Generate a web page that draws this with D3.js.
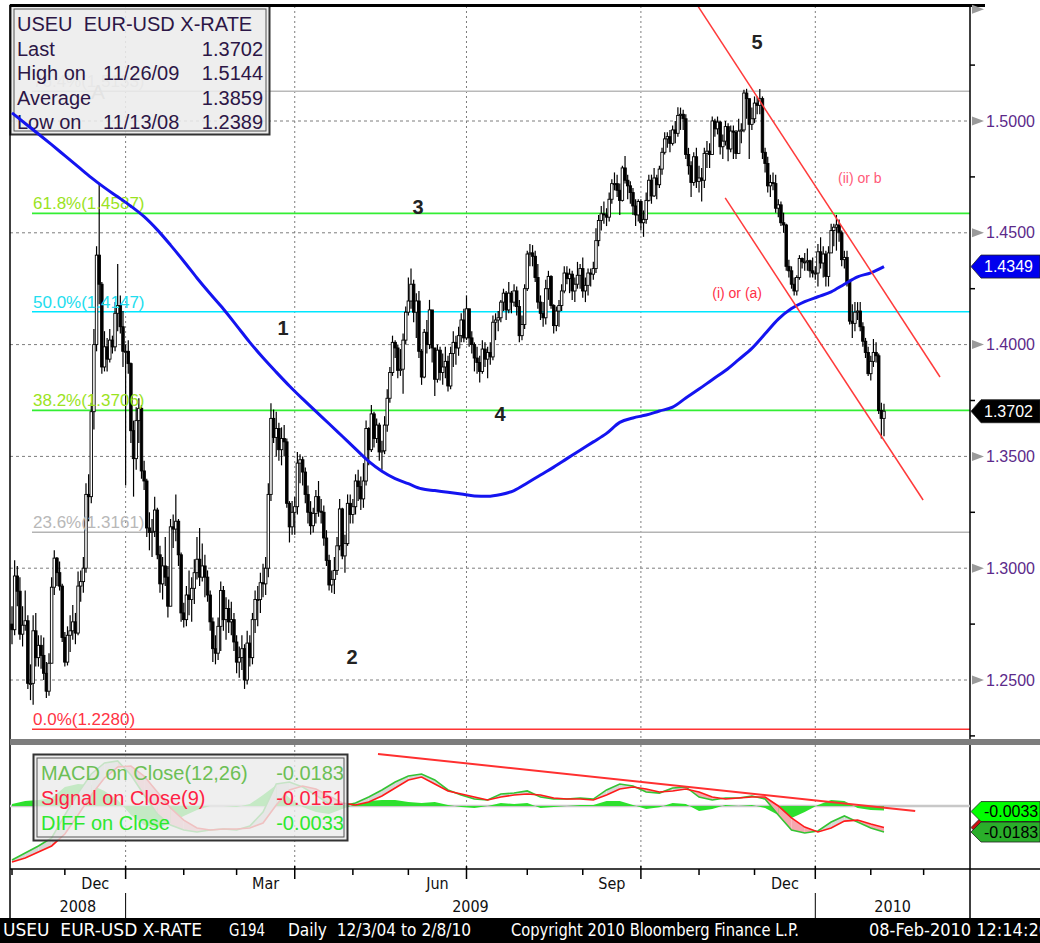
<!DOCTYPE html>
<html>
<head>
<meta charset="utf-8">
<script src="https://cdn.jsdelivr.net/npm/d3@7"></script>
<style>
  body { margin: 0; background: #fff; }
  svg { display: block; font-family: "Liberation Sans", Arial, sans-serif; }
  text { white-space: pre; }
  .narrow { font-family: "Liberation Sans Narrow", "Arial Narrow", "DejaVu Sans Condensed", sans-serif; }
</style>
</head>
<body>
<svg width="1040" height="943"></svg>
<script>
// ---- data (EUR-USD daily, 3 Nov 2008 .. 8 Feb 2010, one value per weekday) ----
const firstOpen = 1.2750;

const closes = [
  // Nov 08
  1.2725,1.2965,1.2897,1.2705,1.2745,1.2765,1.2485,1.2485,1.2720,1.2600,1.2655,1.2610,1.2530,1.2450,1.2575,1.2915,1.3045,1.2980,1.2920,1.2690,
  // Dec 08
  1.2580,1.2700,1.2720,1.2760,1.2710,1.2920,1.2940,1.3000,1.3330,1.3320,1.3700,1.4000,1.4400,1.4270,1.3900,1.3990,1.3935,1.4020,1.3990,1.4140,1.4175,1.4080,1.3970,
  // Jan 09
  1.3970,1.3915,1.3615,1.3490,1.3660,1.3715,1.3435,1.3390,1.3180,1.3160,1.3165,1.3260,1.3060,1.2930,1.3010,1.2960,1.2830,1.3185,1.3175,1.3210,1.3060,1.2800,
  // Feb 09
  1.2770,1.2880,1.2860,1.2910,1.2980,1.3040,1.2960,1.3010,1.2960,1.2880,1.2760,1.2640,1.2620,1.2740,1.2900,1.2770,1.2820,1.2760,1.2770,1.2670,
  // Mar 09
  1.2580,1.2600,1.2640,1.2500,1.2665,1.2600,1.2770,1.2860,1.2860,1.2935,1.2930,1.3000,1.3330,1.3670,1.3585,1.3625,1.3530,1.3580,1.3565,1.3290,1.3185,1.3250,
  // Apr 09
  1.3275,1.3470,1.3485,1.3430,1.3330,1.3250,1.3190,1.3245,1.3320,1.3255,1.3250,1.3135,1.3035,1.2925,1.2950,1.2990,1.3100,1.3265,1.3055,1.3110,1.3290,1.3240,
  // May 09
  1.3275,1.3390,1.3365,1.3310,1.3390,1.3625,1.3530,1.3690,1.3580,1.3640,1.3520,1.3525,1.3640,1.3760,1.3875,1.4010,1.3985,1.3885,1.3890,1.4020,1.4145,
  // Jun 09
  1.4195,1.4270,1.4145,1.4195,1.3970,1.3855,1.4055,1.4000,1.4155,1.3985,1.3845,1.3975,1.3875,1.3900,1.3925,1.3815,1.3960,1.4010,1.3985,1.4040,1.4110,1.4030,
  // Jul 09
  1.4160,1.4030,1.4000,1.3940,1.3920,1.3880,1.3980,1.3935,1.3965,1.3945,1.4100,1.4110,1.4120,1.4190,1.4230,1.4155,1.4230,1.4190,1.4240,1.4170,1.4040,1.4090,1.4250,
  // Aug 09
  1.4405,1.4410,1.4395,1.4300,1.4190,1.4140,1.4120,1.4250,1.4305,1.4175,1.4085,1.4150,1.4175,1.4240,1.4320,1.4295,1.4315,1.4240,1.4270,1.4310,1.4340,
  // Sep 09
  1.4240,1.4265,1.4320,1.4315,1.4340,1.4465,1.4555,1.4585,1.4580,1.4570,1.4650,1.4720,1.4720,1.4690,1.4645,1.4790,1.4735,1.4710,1.4680,1.4620,1.4580,1.4640,
  // Oct 09
  1.4545,1.4560,1.4645,1.4735,1.4665,1.4745,1.4715,1.4785,1.4860,1.4920,1.4930,1.4900,1.4960,1.4945,1.5025,1.5030,1.5010,1.4850,1.4800,1.4725,1.4840,1.4730,
  // Nov 09
  1.4745,1.4735,1.4855,1.4865,1.4850,1.5000,1.4965,1.4995,1.4885,1.4910,1.4975,1.4875,1.4955,1.4950,1.4855,1.4955,1.4960,1.5125,1.5100,1.4985,1.5010,
  // Dec 09
  1.5080,1.5070,1.5100,1.4860,1.4810,1.4710,1.4725,1.4720,1.4610,1.4625,1.4545,1.4535,1.4350,1.4330,1.4270,1.4240,1.4300,1.4385,1.4370,1.4370,1.4375,1.4330,1.4320,
  // Jan 10
  1.4320,1.4415,1.4365,1.4405,1.4305,1.4410,1.4510,1.4525,1.4535,1.4500,1.4380,1.4390,1.4280,1.4105,1.4095,1.4145,1.4150,1.4080,1.4015,1.3965,1.3870,
  // Feb 10
  1.3925,1.3965,1.3950,1.3705,1.3670,1.3702
];

const highs = [
  1.2830,1.3035,1.3010,1.2960,1.2830,1.2900,1.2790,1.2570,1.2790,1.2800,1.2700,1.2700,1.2690,1.2580,1.2620,1.2960,1.3080,1.3050,1.3030,1.2930,
  1.2715,1.2740,1.2790,1.2835,1.2800,1.2985,1.2990,1.3050,1.3380,1.3420,1.3740,1.4070,1.4440,1.4719,1.4280,1.4060,1.4030,1.4070,1.4040,1.4190,1.4360,1.4220,1.4150,
  1.4000,1.4020,1.3920,1.3660,1.3720,1.3760,1.3730,1.3480,1.3400,1.3250,1.3220,1.3320,1.3270,1.3100,1.3050,1.3140,1.3010,1.3220,1.3240,1.3330,1.3220,1.3070,
  1.2845,1.2920,1.2990,1.2960,1.3040,1.3140,1.3180,1.3110,1.3060,1.2990,1.2900,1.2780,1.2700,1.2780,1.2940,1.2920,1.2870,1.2860,1.2850,1.2800,
  1.2700,1.2650,1.2700,1.2660,1.2720,1.2700,1.2800,1.2900,1.2920,1.2980,1.3020,1.3050,1.3380,1.3738,1.3710,1.3700,1.3650,1.3630,1.3640,1.3580,1.3300,1.3300,
  1.3320,1.3520,1.3510,1.3500,1.3450,1.3370,1.3300,1.3270,1.3350,1.3390,1.3310,1.3280,1.3170,1.3060,1.2990,1.3050,1.3140,1.3310,1.3270,1.3150,1.3330,1.3330,
  1.3310,1.3420,1.3440,1.3410,1.3470,1.3660,1.3630,1.3730,1.3700,1.3670,1.3650,1.3570,1.3680,1.3800,1.3900,1.4040,1.4020,1.4000,1.3980,1.4050,1.4170,
  1.4300,1.4340,1.4290,1.4230,1.4240,1.3980,1.4070,1.4110,1.4200,1.4140,1.3980,1.4000,1.3990,1.3960,1.3990,1.3950,1.3990,1.4060,1.4040,1.4080,1.4140,1.4160,
  1.4220,1.4160,1.4060,1.4010,1.3990,1.3950,1.4020,1.4010,1.3990,1.4010,1.4130,1.4140,1.4150,1.4200,1.4250,1.4240,1.4280,1.4240,1.4270,1.4260,1.4200,1.4130,1.4270,
  1.4420,1.4450,1.4445,1.4420,1.4360,1.4220,1.4190,1.4290,1.4330,1.4310,1.4180,1.4170,1.4200,1.4270,1.4350,1.4350,1.4340,1.4330,1.4300,1.4370,1.4360,
  1.4390,1.4300,1.4340,1.4340,1.4370,1.4520,1.4580,1.4620,1.4640,1.4610,1.4680,1.4740,1.4770,1.4760,1.4720,1.4800,1.4844,1.4760,1.4730,1.4700,1.4650,1.4650,
  1.4650,1.4600,1.4680,1.4760,1.4760,1.4790,1.4760,1.4800,1.4880,1.4950,1.4950,1.4960,1.4980,1.5000,1.5061,1.5060,1.5050,1.5030,1.4880,1.4820,1.4860,1.4880,
  1.4800,1.4790,1.4880,1.4910,1.4900,1.5020,1.5010,1.5020,1.5000,1.4940,1.5000,1.4990,1.4980,1.4980,1.4960,1.5010,1.4990,1.5140,1.5144,1.5080,1.5060,
  1.5110,1.5110,1.5143,1.5110,1.4880,1.4840,1.4760,1.4770,1.4760,1.4650,1.4640,1.4590,1.4540,1.4380,1.4350,1.4300,1.4310,1.4400,1.4390,1.4410,1.4430,1.4380,1.4390,
  1.4350,1.4450,1.4480,1.4440,1.4420,1.4440,1.4540,1.4540,1.4580,1.4560,1.4510,1.4420,1.4420,1.4290,1.4180,1.4190,1.4190,1.4190,1.4100,1.4030,1.3990,
  1.3950,1.4025,1.4010,1.3960,1.3740,1.3735
];

const lows = [
  1.2660,1.2700,1.2830,1.2680,1.2650,1.2720,1.2460,1.2410,1.2389,1.2560,1.2560,1.2550,1.2500,1.2420,1.2430,1.2580,1.2880,1.2920,1.2900,1.2670,
  1.2560,1.2565,1.2625,1.2680,1.2660,1.2700,1.2850,1.2890,1.2980,1.3210,1.3290,1.3620,1.3970,1.4180,1.3870,1.3880,1.3880,1.3920,1.3960,1.3970,1.4060,1.4050,1.3900,
  1.3370,1.3870,1.3560,1.3320,1.3440,1.3560,1.3400,1.3350,1.3140,1.3080,1.3050,1.3140,1.3040,1.2890,1.2860,1.2920,1.2780,1.2830,1.3090,1.3120,1.3010,1.2760,
  1.2735,1.2740,1.2790,1.2760,1.2840,1.2950,1.2920,1.2940,1.2870,1.2850,1.2720,1.2580,1.2570,1.2590,1.2630,1.2720,1.2680,1.2710,1.2700,1.2630,
  1.2530,1.2510,1.2545,1.2460,1.2480,1.2560,1.2570,1.2710,1.2740,1.2800,1.2870,1.2880,1.2960,1.3300,1.3560,1.3500,1.3480,1.3460,1.3500,1.3270,1.3115,1.3150,
  1.3150,1.3240,1.3380,1.3370,1.3290,1.3200,1.3150,1.3160,1.3200,1.3230,1.3200,1.3100,1.3010,1.2900,1.2890,1.2885,1.2970,1.3080,1.3040,1.2980,1.3100,1.3200,
  1.3200,1.3240,1.3300,1.3260,1.3270,1.3370,1.3460,1.3520,1.3540,1.3560,1.3480,1.3440,1.3510,1.3610,1.3740,1.3860,1.3940,1.3850,1.3860,1.3780,1.4000,
  1.4130,1.4160,1.4100,1.4030,1.3940,1.3820,1.3850,1.3960,1.3980,1.3920,1.3770,1.3830,1.3840,1.3820,1.3850,1.3790,1.3800,1.3900,1.3910,1.3950,1.4010,1.4010,
  1.4020,1.3990,1.3960,1.3880,1.3870,1.3830,1.3870,1.3900,1.3850,1.3910,1.3930,1.4020,1.4060,1.4100,1.4150,1.4110,1.4140,1.4140,1.4170,1.4130,1.4010,1.4020,1.4070,
  1.4240,1.4350,1.4350,1.4280,1.4160,1.4110,1.4080,1.4090,1.4200,1.4160,1.4050,1.4060,1.4080,1.4150,1.4230,1.4270,1.4230,1.4200,1.4190,1.4250,1.4250,
  1.4210,1.4190,1.4220,1.4260,1.4290,1.4320,1.4440,1.4510,1.4540,1.4530,1.4550,1.4630,1.4690,1.4660,1.4580,1.4640,1.4720,1.4650,1.4630,1.4580,1.4530,1.4550,
  1.4510,1.4482,1.4540,1.4640,1.4630,1.4660,1.4650,1.4700,1.4760,1.4850,1.4880,1.4860,1.4890,1.4900,1.4930,1.4960,1.4960,1.4830,1.4760,1.4660,1.4710,1.4700,
  1.4680,1.4640,1.4700,1.4790,1.4790,1.4860,1.4930,1.4940,1.4850,1.4830,1.4890,1.4820,1.4860,1.4830,1.4830,1.4870,1.4900,1.4950,1.5010,1.4830,1.4960,
  1.4990,1.5030,1.5030,1.4830,1.4770,1.4680,1.4660,1.4690,1.4590,1.4570,1.4530,1.4500,1.4330,1.4300,1.4250,1.4220,1.4220,1.4290,1.4340,1.4330,1.4330,1.4300,1.4300,
  1.4290,1.4260,1.4340,1.4300,1.4260,1.4260,1.4410,1.4440,1.4420,1.4460,1.4350,1.4340,1.4260,1.4090,1.4030,1.4060,1.4110,1.4060,1.3990,1.3940,1.3860,
  1.3840,1.3900,1.3920,1.3690,1.3580,1.3590
];

// 200-day moving average, read every 5th trading day
const maStep = 5;
const maValues = [
  1.5036,1.4989,1.4942,1.4894,1.4845,1.4796,1.4747,1.4702,1.4661,1.4619,1.4572,1.4513,1.4445,1.4373,1.4298,1.4227,1.4159,1.4085,1.4010,1.3941,
  1.3877,1.3815,1.3757,1.3701,1.3646,1.3590,1.3534,1.3478,1.3434,1.3401,1.3378,1.3355,1.3347,1.3340,1.3332,1.3323,1.3322,1.3330,1.3347,1.3381,
  1.3417,1.3452,1.3490,1.3528,1.3565,1.3603,1.3652,1.3672,1.3685,1.3703,1.3720,1.3761,1.3801,1.3843,1.3884,1.3933,1.3983,1.4048,1.4114,1.4161,
  1.4192,1.4214,1.4236,1.4270,1.4303,1.4321,1.4349
];

// MACD(12,26) and signal(9), read every 5th trading day
const macdValues = [
  -0.0380,-0.0331,-0.0281,-0.0225,-0.0063,0.0091,0.0225,0.0303,0.0317,0.0218,0.0077,-0.0056,-0.0134,-0.0169,-0.0183,-0.0169,-0.0162,-0.0169,-0.0141,-0.0042,
  0.0155,0.0169,0.0134,0.0077,0.0014,0.0000,0.0021,0.0063,0.0113,0.0169,0.0211,0.0225,0.0183,0.0113,0.0077,0.0049,0.0042,0.0084,0.0091,0.0106,
  0.0063,0.0049,0.0049,0.0056,0.0049,0.0113,0.0155,0.0141,0.0099,0.0091,0.0127,0.0134,0.0063,0.0042,0.0056,0.0056,0.0070,0.0049,-0.0063,-0.0169,
  -0.0190,-0.0176,-0.0113,-0.0070,-0.0113,-0.0155,-0.0183
];
const signalValues = [
  -0.0394,-0.0366,-0.0324,-0.0281,-0.0197,-0.0063,0.0077,0.0197,0.0274,0.0281,0.0211,0.0099,-0.0014,-0.0099,-0.0155,-0.0169,-0.0162,-0.0162,-0.0155,-0.0120,
  0.0007,0.0113,0.0141,0.0120,0.0070,0.0021,0.0007,0.0028,0.0070,0.0127,0.0183,0.0204,0.0155,0.0106,0.0084,0.0063,0.0042,0.0063,0.0077,0.0084,
  0.0077,0.0056,0.0049,0.0049,0.0042,0.0077,0.0120,0.0134,0.0120,0.0099,0.0106,0.0120,0.0099,0.0063,0.0049,0.0056,0.0063,0.0063,0.0000,-0.0084,
  -0.0148,-0.0183,-0.0155,-0.0106,-0.0099,-0.0127,-0.0151
];

const fibNames  = ["0.0%", "23.6%", "38.2%", "50.0%", "61.8%", "76.4%"];
const fibValues = [1.2280, 1.3161, 1.3706, 1.4147, 1.4587, 1.5133];

const priceTicks = [1.25, 1.30, 1.35, 1.40, 1.45, 1.50, 1.55];
const minorTicks = [1.225, 1.275, 1.325, 1.375, 1.425, 1.475, 1.525];

const legendRows = [
  ["Last", "", "1.3702"],
  ["High on", "11/26/09", "1.5144"],
  ["Average", "", "1.3859"],
  ["Low on", "11/13/08", "1.2389"]
];
const macdLegend = [
  ["MACD on Close(12,26)", "-0.0183"],
  ["Signal on Close(9)", "-0.0151"],
  ["DIFF on Close", "-0.0033"]
];

// wave labels: trading-day index and price where they sit
const waveText  = ["1", "2", "3", "4", "5"];
const waveIdx   = [102.6, 128.7, 153.7, 184.7, 282.0];
const wavePrice = [1.4074, 1.2603, 1.4615, 1.3690, 1.5353];

// drawn trend channel (index, price)
const upperChannel = [[259.3, 1.5519], [351.2, 1.3855]];
const lowerChannel = [[269.9, 1.4656], [344.8, 1.3305]];
const macdTrend = [[138.5, 0.0366], [341.8, -0.0035]];

// ---- layout ----
const plotL = 10, plotR = 970;
const mainTop = 6, mainBot = 739;
const macdTop = 745, macdBot = 869;

const svg = d3.select("svg");
const defs = svg.append("defs");
defs.append("clipPath").attr("id", "clipMain").append("rect")
  .attr("x", plotL).attr("y", mainTop).attr("width", plotR - plotL).attr("height", mainBot - mainTop);
defs.append("clipPath").attr("id", "clipMacd").append("rect")
  .attr("x", plotL).attr("y", macdTop).attr("width", plotR - plotL).attr("height", macdBot - macdTop);

const tradingDays = d3.timeDay.range(new Date(2008, 10, 3), new Date(2010, 3, 1))
  .filter((d) => d.getDay() % 6 !== 0);

const x = d3.scaleLinear().domain([0, 330]).range([12, 884]);
const y = d3.scaleLinear().domain([1.25, 1.50]).range([680, 121]);
const ym = d3.scaleLinear().domain([-0.0443, 0.0429]).range([macdBot, macdTop]);

const monthStarts = tradingDays
  .map((d, i) => ({ d, i }))
  .filter((o) => o.i === 0 || o.d.getMonth() !== tradingDays[o.i - 1].getMonth())
  .filter((o) => x(o.i) <= plotR);
const quarterStarts = monthStarts.filter((o) => o.i > 0 && o.d.getMonth() % 3 === 0);

const opens = closes.map((c, i) => (i === 0 ? firstOpen : closes[i - 1]));

// ---- main panel ----
const main = svg.append("g");

// grid
main.selectAll("line.hgrid")
  .data(priceTicks.filter((t) => t < 1.54))
  .join("line")
  .attr("x1", plotL).attr("x2", plotR)
  .attr("y1", (d) => y(d)).attr("y2", (d) => y(d))
  .attr("stroke", "#7d7d7d").attr("stroke-dasharray", "3,3").attr("stroke-width", 1);

main.selectAll("line.vgrid")
  .data(quarterStarts)
  .join("line")
  .attr("x1", (d) => x(d.i)).attr("x2", (d) => x(d.i))
  .attr("y1", mainTop).attr("y2", mainBot)
  .attr("stroke", "#7d7d7d").attr("stroke-dasharray", "2,3").attr("stroke-width", 1);

// fibonacci lines
const fibLine = { "0.0%": "#ff3333", "23.6%": "#b4b4b4", "38.2%": "#33ee33", "50.0%": "#00e6ff", "61.8%": "#33ee33", "76.4%": "#b9b9b9" };
const fibText = { "0.0%": "#ff3344", "23.6%": "#b8b8b8", "38.2%": "#9be31e", "50.0%": "#22ddee", "61.8%": "#9be31e", "76.4%": "#c4c4c4" };

main.selectAll("line.fib")
  .data(fibValues)
  .join("line")
  .attr("x1", 32).attr("x2", plotR)
  .attr("y1", (d) => y(d)).attr("y2", (d) => y(d))
  .attr("stroke", (d, i) => fibLine[fibNames[i]]).attr("stroke-width", 1.6);

// candles
const candles = main.append("g").attr("clip-path", "url(#clipMain)");
candles.selectAll("line")
  .data(closes)
  .join("line")
  .attr("x1", (d, i) => x(i)).attr("x2", (d, i) => x(i))
  .attr("y1", (d, i) => y(Math.max(highs[i], opens[i], d)))
  .attr("y2", (d, i) => y(Math.min(lows[i], opens[i], d)))
  .attr("stroke", "#000").attr("stroke-width", 1.2);

candles.selectAll("rect")
  .data(closes)
  .join("rect")
  .attr("x", (d, i) => x(i) - 1.25)
  .attr("width", 2.5)
  .attr("y", (d, i) => y(Math.max(opens[i], d)))
  .attr("height", (d, i) => Math.max(1, Math.abs(y(opens[i]) - y(d))))
  .attr("fill", (d, i) => (d >= opens[i] ? "#fff" : "#000"))
  .attr("stroke", "#000").attr("stroke-width", 0.9);

// fib labels
main.selectAll("text.fib")
  .data(fibValues)
  .join("text")
  .attr("x", 33).attr("y", (d) => y(d) - 4)
  .attr("font-size", 17)
  .attr("fill", (d, i) => fibText[fibNames[i]])
  .text((d, i) => `${fibNames[i]}(${d.toFixed(4)})`);

main.append("text")
  .attr("x", 91).attr("y", 99)
  .attr("font-size", 21).attr("fill", "#aaaaaa")
  .text("A");

// price legend
const leg = main.append("g");
leg.append("rect").attr("x", 10.5).attr("y", 5.5).attr("width", 259).attr("height", 129)
  .attr("fill", "#ececec").attr("fill-opacity", 0.87).attr("stroke", "#333").attr("stroke-width", 2);
leg.append("rect").attr("x", 14).attr("y", 9).attr("width", 252).attr("height", 122)
  .attr("fill", "none").attr("stroke", "#555").attr("stroke-width", 1);
leg.append("text")
  .attr("x", 17).attr("y", 24).attr("dy", "0.35em")
  .attr("font-size", 20).attr("fill", "#2c1646")
  .text("USEU  EUR-USD X-RATE");
legendRows.forEach((r, k) => {
  const ty = 49 + k * 24.3;
  leg.append("text").attr("x", 17).attr("y", ty).attr("dy", "0.35em")
    .attr("font-size", 20).attr("fill", "#2c1646").text(r[0]);
  leg.append("text").attr("x", 103).attr("y", ty).attr("dy", "0.35em")
    .attr("font-size", 20).attr("fill", "#2c1646").text(r[1]);
  leg.append("text").attr("x", 263).attr("y", ty).attr("dy", "0.35em")
    .attr("text-anchor", "end")
    .attr("font-size", 20).attr("fill", "#2c1646").text(r[2]);
});

// 200d moving average
main.append("path")
  .datum(maValues)
  .attr("clip-path", "url(#clipMain)")
  .attr("fill", "none").attr("stroke", "#1414f0").attr("stroke-width", 3)
  .attr("d", d3.line().x((d, i) => x(i * maStep)).y((d) => y(d)).curve(d3.curveMonotoneX));

// channel
main.selectAll("line.chan")
  .data([upperChannel, lowerChannel])
  .join("line")
  .attr("clip-path", "url(#clipMain)")
  .attr("x1", (d) => x(d[0][0])).attr("y1", (d) => y(d[0][1]))
  .attr("x2", (d) => x(d[1][0])).attr("y2", (d) => y(d[1][1]))
  .attr("stroke", "#ff3b3b").attr("stroke-width", 1.5);

main.append("text")
  .attr("x", x(312.6)).attr("y", y(1.4745)).attr("dy", "0.35em")
  .attr("font-size", 14).attr("fill", "#ff5a78")
  .text("(ii) or b");
main.append("text")
  .attr("x", x(265.0)).attr("y", y(1.4231)).attr("dy", "0.35em")
  .attr("font-size", 14).attr("fill", "#ff3048")
  .text("(i) or (a)");

main.selectAll("text.wave")
  .data(waveText)
  .join("text")
  .attr("x", (d, i) => x(waveIdx[i])).attr("y", (d, i) => y(wavePrice[i]))
  .attr("dy", "0.35em").attr("text-anchor", "middle")
  .attr("font-size", 20).attr("font-weight", "bold").attr("fill", "#222")
  .text((d) => d);

// ---- right price axis ----
const axis = svg.append("g");
axis.append("line").attr("x1", plotR).attr("x2", plotR).attr("y1", 5).attr("y2", 918)
  .attr("stroke", "#000").attr("stroke-width", 1.5);
axis.append("line").attr("x1", plotL).attr("x2", 985).attr("y1", 5.5).attr("y2", 5.5)
  .attr("stroke", "#000").attr("stroke-width", 3);
axis.append("line").attr("x1", plotL).attr("x2", plotL).attr("y1", 5).attr("y2", 918)
  .attr("stroke", "#000").attr("stroke-width", 1.5);

axis.selectAll("path.tickmark")
  .data(priceTicks)
  .join("path")
  .attr("d", (d) => `M972,${y(d) - 4.5}L984,${y(d)}L972,${y(d) + 4.5}Z`)
  .attr("fill", "#9a9a9a");
axis.selectAll("line.minor")
  .data(minorTicks)
  .join("line")
  .attr("x1", plotR).attr("x2", 975)
  .attr("y1", (d) => y(d)).attr("y2", (d) => y(d))
  .attr("stroke", "#000").attr("stroke-width", 1.5);
axis.selectAll("text.tick")
  .data(priceTicks.filter((t) => t < 1.54))
  .join("text")
  .attr("x", 986).attr("y", (d) => y(d)).attr("dy", "0.35em")
  .attr("font-size", 16).attr("fill", "#5c2a8a")
  .text((d) => d.toFixed(4));

function marker(g, yy, fill, color, label, h) {
  g.append("path")
    .attr("d", `M971,${yy}L981,${yy - h}L1040,${yy - h}L1040,${yy + h}L981,${yy + h}Z`)
    .attr("fill", fill).attr("stroke", "#222").attr("stroke-width", 0.8);
  g.append("text").attr("x", 984).attr("y", yy).attr("dy", "0.36em")
    .attr("font-size", 16).attr("fill", color).text(label);
}
marker(axis, y(maValues[maValues.length - 1]), "#0000ee", "#fff", maValues[maValues.length - 1].toFixed(4), 11.5);
marker(axis, y(closes[closes.length - 1]), "#000", "#fff", closes[closes.length - 1].toFixed(4), 11.5);

// ---- separator ----
svg.append("rect").attr("x", plotL).attr("y", 739).attr("width", 1040 - plotL).attr("height", 6).attr("fill", "#7d7d7d");

// ---- MACD panel ----
const mp = svg.append("g");
mp.selectAll("line.vgrid")
  .data(quarterStarts)
  .join("line")
  .attr("x1", (d) => x(d.i)).attr("x2", (d) => x(d.i))
  .attr("y1", macdTop).attr("y2", macdBot)
  .attr("stroke", "#7d7d7d").attr("stroke-dasharray", "2,3");
mp.append("line").attr("x1", plotL).attr("x2", plotR).attr("y1", ym(0)).attr("y2", ym(0))
  .attr("stroke", "#c8c8c8").attr("stroke-width", 2.5);

const diffValues = macdValues.map((m, i) => m - signalValues[i]);
const inner = mp.append("g").attr("clip-path", "url(#clipMacd)");

inner.append("path")
  .datum(diffValues)
  .attr("fill", "#2ee02e")
  .attr("d", d3.area().x((d, i) => x(i * maStep)).y0(ym(0)).y1((d) => ym(d)));

// fill between macd and signal, one slab per step
inner.selectAll("path.band")
  .data(d3.range(macdValues.length - 1))
  .join("path")
  .attr("d", (k) => {
    const x0 = x(k * maStep), x1 = x((k + 1) * maStep);
    return `M${x0},${ym(macdValues[k])}L${x1},${ym(macdValues[k + 1])}L${x1},${ym(signalValues[k + 1])}L${x0},${ym(signalValues[k])}Z`;
  })
  .attr("fill", (k) => (signalValues[k] + signalValues[k + 1] > macdValues[k] + macdValues[k + 1] ? "#f6a7b0" : "#d6d6d6"));

const mline = d3.line().x((d, i) => x(i * maStep)).y((d) => ym(d));
inner.append("path").datum(macdValues).attr("fill", "none").attr("stroke", "#33c433").attr("stroke-width", 1.6).attr("d", mline);
inner.append("path").datum(signalValues).attr("fill", "none").attr("stroke", "#ff1a1a").attr("stroke-width", 1.6).attr("d", mline);

inner.append("line")
  .attr("x1", x(macdTrend[0][0])).attr("y1", ym(macdTrend[0][1]))
  .attr("x2", x(macdTrend[1][0])).attr("y2", ym(macdTrend[1][1]))
  .attr("stroke", "#ff3030").attr("stroke-width", 2);

// MACD legend
const ml = mp.append("g");
ml.append("rect").attr("x", 33.5).attr("y", 754.5).attr("width", 314).attr("height", 86)
  .attr("fill", "#ebebeb").attr("fill-opacity", 0.8).attr("stroke", "#333").attr("stroke-width", 2);
ml.append("rect").attr("x", 37).attr("y", 758).attr("width", 307).attr("height", 79)
  .attr("fill", "none").attr("stroke", "#555").attr("stroke-width", 1);
const macdColors = ["#6cbf55", "#ff1f44", "#2ee82e"];
macdLegend.forEach((r, k) => {
  const ty = 773 + k * 25;
  ml.append("text").attr("x", 41).attr("y", ty).attr("dy", "0.35em")
    .attr("font-size", 20).attr("fill", macdColors[k]).text(r[0]);
  ml.append("text").attr("x", 344).attr("y", ty).attr("dy", "0.35em").attr("text-anchor", "end")
    .attr("font-size", 20).attr("fill", macdColors[k]).text(r[1]);
});

// last-value flags on the right (texts as Bloomberg reports them)
const lastK = macdValues.length - 1;
marker(mp, ym(signalValues[lastK]), "#cc1111", "#000", macdLegend[1][1], 10);
marker(mp, ym(diffValues[lastK]) + 1, "#00ff00", "#000", macdLegend[2][1], 10);
marker(mp, ym(macdValues[lastK]), "#2aae2a", "#000", macdLegend[0][1], 10);

// ---- time axis ----
const xa = svg.append("g");
xa.append("line").attr("x1", plotL).attr("x2", 1040).attr("y1", macdBot).attr("y2", macdBot)
  .attr("stroke", "#000").attr("stroke-width", 1.5);
xa.selectAll("line.mtick")
  .data(monthStarts)
  .join("line")
  .attr("x1", (d) => x(d.i)).attr("x2", (d) => x(d.i))
  .attr("y1", (d) => (d.i > 0 && d.d.getMonth() % 3 === 0 ? 866 : macdBot))
  .attr("y2", (d) => (d.i > 0 && d.d.getMonth() % 3 === 0 ? 879 : 875))
  .attr("stroke", "#000").attr("stroke-width", 1.5);

const fmtMonth = d3.timeFormat("%b");
const labelMonths = monthStarts.filter((o, k) => k + 1 < monthStarts.length && o.d.getMonth() % 3 === 2);
xa.selectAll("text.month")
  .data(labelMonths)
  .join("text")
  .attr("class", "narrow")
  .attr("x", (o) => (x(o.i) + x(monthStarts[monthStarts.indexOf(o) + 1].i)) / 2)
  .attr("y", 883).attr("dy", "0.35em").attr("text-anchor", "middle")
  .attr("font-size", 16).attr("fill", "#111")
  .text((o) => fmtMonth(o.d));

const yearStarts = monthStarts.filter((o) => o.i > 0 && o.d.getMonth() === 0);
const yearBounds = [x(0) + 18].concat(yearStarts.map((o) => x(o.i)), [plotR]);
const yearNames = [2008].concat(yearStarts.map((o) => o.d.getFullYear()));
xa.selectAll("text.year")
  .data(yearNames)
  .join("text")
  .attr("class", "narrow")
  .attr("x", (d, k) => (yearBounds[k] + yearBounds[k + 1]) / 2)
  .attr("y", 906).attr("dy", "0.35em").attr("text-anchor", "middle")
  .attr("font-size", 16).attr("fill", "#111")
  .text((d) => d);
xa.selectAll("line.ysep")
  .data(yearStarts)
  .join("line")
  .attr("x1", (o) => x(o.i)).attr("x2", (o) => x(o.i))
  .attr("y1", 893).attr("y2", 918)
  .attr("stroke", "#000").attr("stroke-width", 1);

// ---- footer ----
svg.append("rect").attr("x", 0).attr("y", 918).attr("width", 1040).attr("height", 25).attr("fill", "#000");
const footer = [
  ["USEU  EUR-USD X-RATE", 3, 199],
  ["G194", 229, 36],
  ["Daily  12/3/04 to 2/8/10", 288, 183],
  ["Copyright 2010 Bloomberg Finance L.P.", 511, 288],
  ["08-Feb-2010 12:14:20", 869, 180]
];
svg.selectAll("text.foot")
  .data(footer)
  .join("text")
  .attr("class", "narrow")
  .attr("x", (d) => d[1]).attr("y", 936)
  .attr("font-size", 17).attr("fill", "#fff")
  .attr("textLength", (d) => d[2]).attr("lengthAdjust", "spacingAndGlyphs")
  .text((d) => d[0]);

if (closes.length !== 331 || highs.length !== 331 || lows.length !== 331 ||
    maValues.length !== 67 || macdValues.length !== 67 || signalValues.length !== 67) {
  throw new Error(`lengths ${closes.length} ${highs.length} ${lows.length} ${maValues.length} ${macdValues.length} ${signalValues.length}`);
}
</script>
</body>
</html>
